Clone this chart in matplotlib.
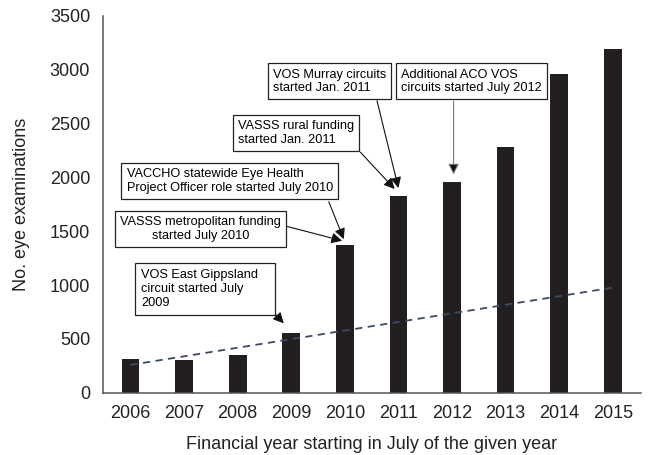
import numpy as np
import matplotlib
matplotlib.use("Agg")
import matplotlib.pyplot as plt

plt.rcParams['font.family'] = ['Liberation Sans', 'DejaVu Sans']

# data
years = ['2006', '2007', '2008', '2009', '2010', '2011', '2012', '2013', '2014', '2015']
exams = [311, 305, 351, 554, 1376, 1827, 1957, 2278, 2961, 3194]
# dashed trend line, start and end values
trend_years = [0, 9]
trend_values = [258, 976]

fig = plt.figure(figsize=(6.48, 4.55), dpi=100)
ax = fig.add_axes([0.1585, 0.137, 0.83, 0.828])

x = np.arange(len(years))
ax.bar(x, exams, width=0.33, color='#231f20', zorder=2)
ax.plot(trend_years, trend_values, ls=(0, (4, 3)), color='#3b4a66', lw=1.3, zorder=3)

ax.set_xlim(-0.52, 9.52)
ax.set_ylim(0, 3500)
ax.set_yticks(range(0, 3501, 500))
ax.set_xticks(x)
ax.set_xticklabels(years)
ax.tick_params(length=0, labelsize=13, colors='#222222', pad=9)
for s in ['top', 'right']:
    ax.spines[s].set_visible(False)
for s in ['left', 'bottom']:
    ax.spines[s].set_color('#555555')
    ax.spines[s].set_linewidth(1.1)

ax.set_ylabel('No. eye examinations', fontsize=13, color='#222222', labelpad=14)
ax.set_xlabel('Financial year starting in July of the given year', fontsize=13,
              color='#222222', labelpad=10)

box = dict(boxstyle='square,pad=0.4', fc='white', ec='#222222', lw=0.9)
fs = 9.2

# annotation boxes
ax.text(3.71, 2891, 'VOS Murray circuits\nstarted Jan. 2011', fontsize=fs,
        ha='center', va='center', multialignment='left', bbox=box, zorder=5)
ax.text(6.36, 2891, 'Additional ACO VOS\ncircuits started July 2012', fontsize=fs,
        ha='center', va='center', multialignment='left', bbox=box, zorder=5)
ax.text(3.09, 2413, 'VASSS rural funding\nstarted Jan. 2011', fontsize=fs,
        ha='center', va='center', multialignment='left', bbox=box, zorder=5)
ax.text(1.85, 1963, 'VACCHO statewide Eye Health\nProject Officer role started July 2010',
        fontsize=fs, ha='center', va='center', multialignment='left', bbox=box, zorder=5)
ax.text(1.31, 1518, 'VASSS metropolitan funding\nstarted July 2010', fontsize=fs,
        ha='center', va='center', multialignment='center', bbox=box, zorder=5)
ax.text(1.39, 962, 'VOS East Gippsland   \ncircuit started July\n2009', fontsize=fs,
        ha='center', va='center', multialignment='left',
        bbox=dict(boxstyle='square,pad=0.5', fc='white', ec='#222222', lw=0.9), zorder=5)

# arrows
arrow = dict(arrowstyle='-|>', color='#111111', lw=0.8, mutation_scale=16,
             shrinkA=0, shrinkB=0)
ax.annotate('', xy=(5.0, exams[5] + 75), xytext=(4.60, 2712), arrowprops=arrow, zorder=4)
ax.annotate('', xy=(4.93, exams[5] + 65), xytext=(4.29, 2234), arrowprops=arrow, zorder=4)
ax.annotate('', xy=(3.98, exams[4] + 50), xytext=(3.70, 1774), arrowprops=arrow, zorder=4)
ax.annotate('', xy=(3.95, exams[4] + 35), xytext=(2.90, 1547), arrowprops=arrow, zorder=4)
ax.annotate('', xy=(2.86, exams[3] + 90), xytext=(2.48, 848), arrowprops=arrow, zorder=4)
ax.annotate('', xy=(6.03, exams[6] + 70), xytext=(6.03, 2709),
            arrowprops=dict(arrowstyle='-|>', color='#777777', lw=0.8, mutation_scale=16,
                            shrinkA=0, shrinkB=0, fc='#111111'), zorder=4)

fig.savefig('out.png', dpi=100)
